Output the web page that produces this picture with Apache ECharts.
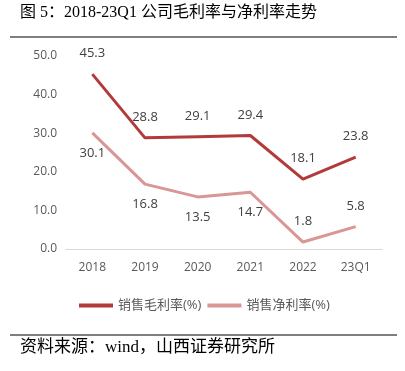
<!DOCTYPE html>
<html><head><meta charset="utf-8">
<script src="https://cdn.jsdelivr.net/npm/echarts@6/dist/echarts.min.js"></script>
<style>html,body{margin:0;padding:0;background:#fff}#c{width:405px;height:371px}</style>
</head><body><div id="c"></div>
<script>
const categories = ['2018','2019','2020','2021','2022','23Q1'];
const grossMargin = [45.3, 28.8, 29.1, 29.4, 18.1, 23.8];
const netMargin = [30.1, 16.8, 13.5, 14.7, 1.8, 5.8];
const netLabelPos = ['bottom','bottom','bottom','bottom','top','top'];
const seriesNames = ['销售毛利率(%)', '销售净利率(%)'];
const titleText = '图 5：2018-23Q1 公司毛利率与净利率走势';
const sourceText = '资料来源：wind，山西证券研究所';

const chart = echarts.init(document.getElementById('c'), null, {renderer:'canvas'});
const font = '"Open Sans","Noto Sans CJK SC",sans-serif';
const labelColor = '#404040';
chart.setOption({
  animation:false,
  textStyle:{fontFamily:font},
  graphic:[
    {type:'text', left:20, top:5, style:{text:titleText, fontSize:16, fontFamily:'"Liberation Serif","Noto Sans CJK SC",serif', fill:'#000'}},
    {type:'line', shape:{x1:10,y1:37,x2:397,y2:37}, style:{stroke:'#555',lineWidth:1.5}},
    {type:'line', shape:{x1:10,y1:335,x2:397,y2:335}, style:{stroke:'#555',lineWidth:1.5}},
    {type:'text', left:20, top:339, style:{text:sourceText, fontSize:17, fontFamily:'"Liberation Serif","Noto Sans CJK SC",serif', fill:'#000'}}
  ],
  grid:{left:66, right:23, top:56, bottom:122},
  legend:{
    top:294, left:74, itemWidth:34, itemHeight:4, itemGap:6, icon:'rect',
    textStyle:{color:'#595959', fontSize:13, fontFamily:font},
    data:seriesNames
  },
  xAxis:{
    type:'category', data:categories, boundaryGap:true,
    axisLine:{lineStyle:{color:'#D9D9D9'}}, axisTick:{show:false},
    axisLabel:{color:'#595959', fontSize:12, margin:13}
  },
  yAxis:{
    type:'value', min:0, max:50, interval:10,
    axisLine:{show:false}, axisTick:{show:false}, splitLine:{show:false},
    axisLabel:{color:'#595959', fontSize:12, margin:9, formatter:v=>v.toFixed(1)}
  },
  series:[
    {name:seriesNames[0], type:'line', data:grossMargin, symbol:'circle', symbolSize:0, showSymbol:true,
     lineStyle:{color:'#B33A3A', width:3}, itemStyle:{color:'#B33A3A'},
     label:{show:true, position:'top', distance:14, color:labelColor, fontSize:13, formatter:p=>Number(p.value).toFixed(1)}},
    {name:seriesNames[1], type:'line', symbol:'circle', symbolSize:0, showSymbol:true,
     data:netMargin.map((v,i)=>({value:v, label:{position:netLabelPos[i]}})),
     lineStyle:{color:'#D99694', width:3}, itemStyle:{color:'#D99694'},
     label:{show:true, distance:14, color:labelColor, fontSize:13, formatter:p=>Number(p.value).toFixed(1)}}
  ]
});
</script></body></html>
